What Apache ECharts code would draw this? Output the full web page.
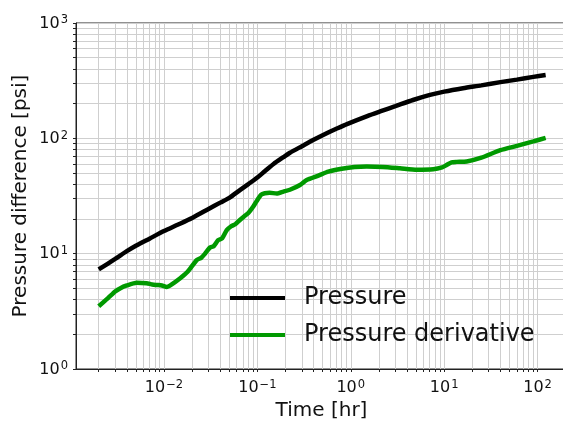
<!DOCTYPE html>
<html>
<head>
<meta charset="utf-8">
<script src="https://cdn.jsdelivr.net/npm/echarts@6/dist/echarts.min.js"></script>
<style>
html,body{margin:0;padding:0;background:#fff;}
#c{width:563px;height:421px;}
</style>
</head>
<body>
<div id="c"></div>
<script>
// ---- data ----
const pressureTime = [0.002,0.003,0.004,0.005,0.007,0.01,0.014,0.02,0.03,0.04,0.05,0.065,0.08,0.1,0.12,0.15,0.19,0.223,0.3,0.4,0.552,0.7,0.91,1.5,2.06,3,4.64,7.05,10,15.9,25,40,60,90,122];
const pressureValues = [7.3,9.0,10.5,11.7,13.5,15.7,17.8,20.4,24.4,27.7,30.5,35.6,40.1,45.7,51.8,60.2,68.7,75,85.5,97,110.7,121,133,156,171,190,215,238,254,272,288,307,323,341,354];

const derivTime = [0.002,0.0025,0.003,0.00338,0.004,0.0051,0.0065,0.0075,0.0084,0.0095,0.0107,0.012,0.0148,0.018,0.0224,0.025,0.0275,0.0311,0.034,0.038,0.042,0.047,0.052,0.058,0.065,0.072,0.08,0.09,0.098,0.11,0.12,0.135,0.161,0.19,0.223,0.286,0.337,0.45,0.574,0.8,1.1,1.48,2.2,3.37,5.08,7.64,9.5,10.6,12,13.6,17.4,25,40,60,90,122];
const derivValues = [3.5,4.1,4.7,5.0,5.3,5.6,5.55,5.4,5.35,5.3,5.15,5.4,6.1,7.0,8.8,9.2,10.0,11.3,11.6,13.1,13.6,16.0,17.2,18.0,19.6,21.0,22.5,25.5,28.5,32.5,33.4,33.8,33.2,34.5,35.8,39.4,43.5,47.5,51.4,54.5,56.5,57,56.5,55,53.5,54,56,58.7,62,62.5,63,68,79,86,94,101];

const seriesNames = ['Pressure','Pressure derivative'];
const xMajor = [0.01,0.1,1,10,100];
const yMajor = [1,10,100,1000];
const xTitle = 'Time [hr]';
const yTitle = 'Pressure difference [psi]';

// ---- helpers ----
function decadeTicks(lo, hi) {
  const out = [];
  for (let e = lo; e <= hi; e++) {
    for (let k = 1; k <= 9; k++) out.push(+(k * Math.pow(10, e)).toPrecision(3));
  }
  return out;
}
const xTicks = decadeTicks(-3, 2);
const yTicks = decadeTicks(0, 2).concat([1000]);

function sciLabel(v) {
  const e = Math.round(Math.log10(v));
  const s = String(e).replace('-', '\u2212');
  return '{b|10}{s|' + s + '}';
}
const rich = {
  b: {fontSize: 16, color: '#111', fontFamily: 'DejaVu Sans', verticalAlign: 'bottom', lineHeight: 17},
  s: {fontSize: 11.5, color: '#111', fontFamily: 'DejaVu Sans', verticalAlign: 'top', lineHeight: 12, padding: [0,0,9,1]}
};

const gridColor = '#cfcfcf';

const chart = echarts.init(document.getElementById('c'), null, {renderer: 'canvas'});
chart.setOption({
  animation: false,
  backgroundColor: '#fff',
  grid: {left: 76, top: 23, width: 491, height: 346, show: true, borderColor: '#222', borderWidth: 1,
         backgroundColor: 'transparent', containLabel: false, outerBoundsMode: 'none'},
  legend: {
    orient: 'vertical', left: 225, top: 280, itemGap: 11,
    itemWidth: 55, itemHeight: 4, icon: 'rect',
    textStyle: {fontSize: 24, lineHeight: 26, color: '#111', fontFamily: 'DejaVu Sans', padding: [0,0,0,14]},
    data: seriesNames
  },
  xAxis: {
    type: 'log', logBase: 10, min: 0.001143, max: 206.5,
    name: xTitle, nameLocation: 'middle', nameGap: 32, nameMoveOverlap: false,
    nameTextStyle: {fontSize: 20, color: '#111', fontFamily: 'DejaVu Sans'},
    axisLine: {show: true, lineStyle: {color: '#222', width: 1}},
    axisTick: {show: true, length: 3, customValues: xTicks, lineStyle: {color: '#222'}},
    axisLabel: {customValues: xMajor, formatter: sciLabel, rich: rich, margin: 10},
    splitLine: {show: true, lineStyle: {color: gridColor, width: 1}},
    minorTick: {show: false}
  },
  yAxis: {
    type: 'log', logBase: 10, min: 1, max: 1000,
    name: yTitle, nameLocation: 'middle', nameGap: 45, nameMoveOverlap: false,
    nameTextStyle: {fontSize: 20, color: '#111', fontFamily: 'DejaVu Sans'},
    axisLine: {show: true, lineStyle: {color: '#222', width: 1}},
    axisTick: {show: true, length: 3, customValues: yTicks, lineStyle: {color: '#222'}},
    axisLabel: {customValues: yMajor, formatter: sciLabel, rich: rich, margin: 8},
    splitLine: {show: true, lineStyle: {color: gridColor, width: 1}}
  },
  series: [
    {
      name: seriesNames[0], type: 'line', showSymbol: false, smooth: 0.25,
      lineStyle: {color: '#000', width: 4.5}, itemStyle: {color: '#000'},
      data: pressureTime.map((t, i) => [t, pressureValues[i]])
    },
    {
      name: seriesNames[1], type: 'line', showSymbol: false, smooth: 0.2,
      lineStyle: {color: '#009900', width: 4.5}, itemStyle: {color: '#009900'},
      data: derivTime.map((t, i) => [t, derivValues[i]])
    }
  ]
});
</script>
</body>
</html>
